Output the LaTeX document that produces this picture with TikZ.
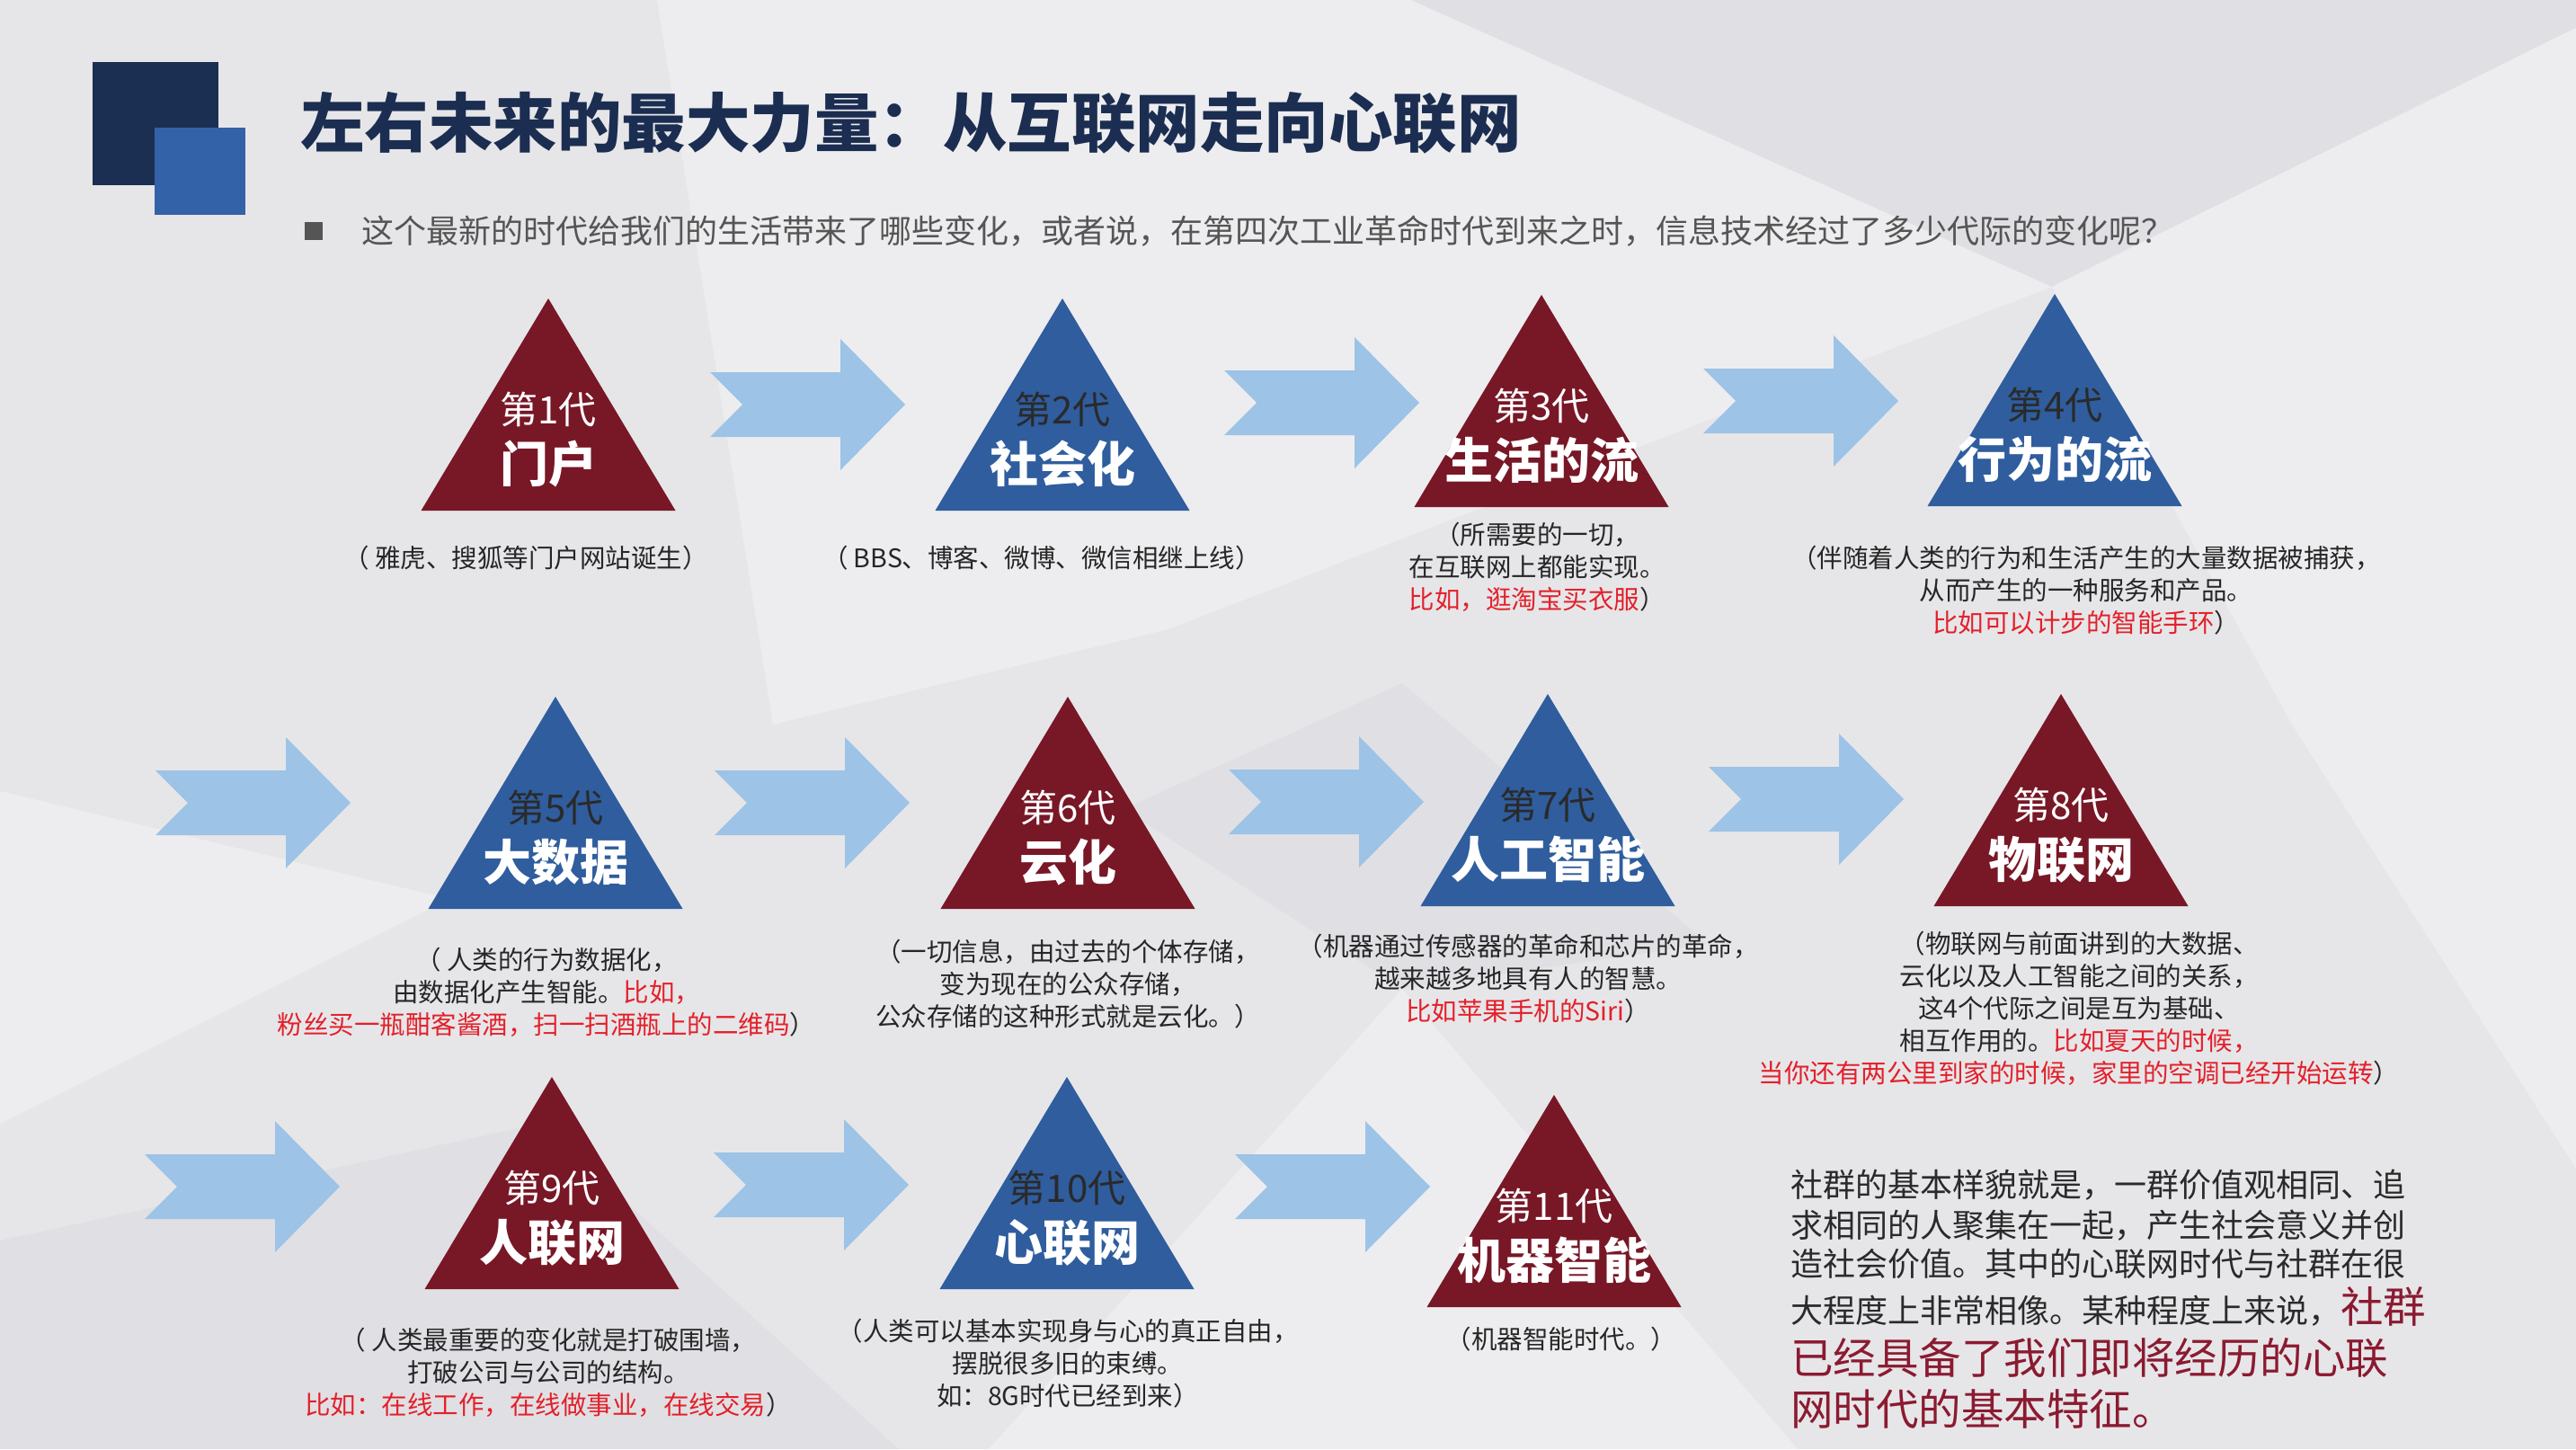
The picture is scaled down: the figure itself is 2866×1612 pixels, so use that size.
\documentclass[tikz,border=0pt]{standalone}
\usepackage{fontspec}
\newfontfamily\cjk{Noto Sans CJK SC}
\definecolor{bgbase}{HTML}{E6E6E9}
\definecolor{bglight}{HTML}{EDEDEF}
\definecolor{bgdark}{HTML}{E0E0E4}
\definecolor{tred}{HTML}{781726}
\definecolor{tblue}{HTML}{2F5D9E}
\definecolor{arrowc}{HTML}{9DC3E6}
\definecolor{navy}{HTML}{1B2D50}
\definecolor{logodark}{HTML}{1B2F52}
\definecolor{logolight}{HTML}{3462A8}
\definecolor{darktxt}{HTML}{2A2A2A}
\definecolor{txtgray}{HTML}{262626}
\definecolor{subgray}{HTML}{555555}
\definecolor{hl}{HTML}{E3202A}
\definecolor{parared}{HTML}{8B1A30}
\newcommand\gentri[7]{%
  \fill[#4] (#2,#3) -- ++(141.5,236) -- ++(-283,0) -- cycle;
  \node[toplab,text=#5] (#1t) at (#2,#3+123) {#6};
  \node[mainlab] (#1m) at (#2,#3+184) {#7};
}
\newcommand\chevarrow[2]{%
  \fill[arrowc] (#1,#2-36) -- ++(145,0) -- ++(0,-37) -- ++(72,73) -- ++(-72,73) -- ++(0,-37) -- ++(-145,0) -- ++(36,-36) -- cycle;
}
\begin{document}
\begin{tikzpicture}[x=1pt,y=-1pt,
  toplab/.style={font=\cjk\fontsize{42}{42}\selectfont, inner sep=0pt},
  mainlab/.style={font=\cjk\bfseries\fontsize{54}{54}\selectfont, text=white, inner sep=0pt},
  desc/.style={font=\cjk\fontsize{28.5}{36}\selectfont, align=center, text=txtgray, inner sep=0pt},
  para/.style={font=\cjk\fontsize{36}{36}\selectfont, text=darktxt, inner sep=0pt, anchor=base west},
  parabig/.style={font=\cjk\fontsize{47.5}{47.5}\selectfont, text=parared, inner sep=0pt, anchor=base west}]
\useasboundingbox (0,0) rectangle (2866,1612);
% background facets
\fill[bgbase] (0,0) rectangle (2866,1612);
\fill[bglight] (731,0) -- (1570,0) -- (2283,319) -- (1300,700) -- (860,806) -- cycle;
\fill[bgdark] (1570,0) -- (2866,0) -- (2866,31) -- (2283,319) -- cycle;
\fill[bglight] (2283,319) -- (2866,31) -- (2866,1300) -- (2550,806) -- cycle;
\fill[bgdark] (0,1380) -- (600,1250) -- (1000,1612) -- (0,1612) -- cycle;
\fill[bglight] (0,880) -- (500,1000) -- (0,1250) -- cycle;
\fill[bglight] (1560,1100) -- (2000,1612) -- (1100,1612) -- cycle;
\fill[bgdark] (1560,760) -- (1900,1050) -- (1560,1100) -- (1250,900) -- cycle;
% logo
\fill[logodark] (103,69) rectangle (243,206);
\fill[logolight] (172,142) rectangle (273,239);
% title
\node[font=\cjk\bfseries\fontsize{71.5}{71.5}\selectfont, text=navy, inner sep=0pt, anchor=west] (title) at (334,137) {左右未来的最大力量：从互联网走向心联网};
\fill[subgray] (339,247) rectangle (359,267);
\node[font=\cjk\fontsize{36}{36}\selectfont, text=subgray, inner sep=0pt, anchor=west] (sub) at (402,257) {这个最新的时代给我们的生活带来了哪些变化，或者说，在第四次工业革命时代到来之时，信息技术经过了多少代际的变化呢？};
% arrows
\chevarrow{790}{450}
\chevarrow{1362}{448}
\chevarrow{1895}{446}
\chevarrow{173}{893}
\chevarrow{795}{893}
\chevarrow{1367}{892}
\chevarrow{1901}{889}
\chevarrow{161}{1320}
\chevarrow{794}{1318}
\chevarrow{1374}{1320}
% triangles
\gentri{t1}{610}{332}{tred}{white}{第1代}{门户}
\gentri{t2}{1182}{332}{tblue}{darktxt}{第2代}{社会化}
\gentri{t3}{1715}{328}{tred}{white}{第3代}{生活的流}
\gentri{t4}{2286}{327}{tblue}{darktxt}{第4代}{行为的流}
\gentri{t5}{618}{775}{tblue}{darktxt}{第5代}{大数据}
\gentri{t6}{1188}{775}{tred}{white}{第6代}{云化}
\gentri{t7}{1722}{772}{tblue}{darktxt}{第7代}{人工智能}
\gentri{t8}{2293}{772}{tred}{white}{第8代}{物联网}
\gentri{t9}{614}{1198}{tred}{white}{第9代}{人联网}
\gentri{t10}{1187}{1198}{tblue}{darktxt}{第10代}{心联网}
\gentri{t11}{1729}{1218}{tred}{white}{第11代}{机器智能}
% descriptions
\node[desc] (d1) at (585,621) {（ 雅虎、搜狐等门户网站诞生）};
\node[desc] (d2) at (1159,621) {（ BBS、博客、微博、微信相继上线）};
\node[desc] (d3) at (1710,631) {（所需要的一切，\\在互联网上都能实现。\\\textcolor{hl}{比如，逛淘宝买衣服}）};
\node[desc] (d4) at (2321,657) {（伴随着人类的行为和生活产生的大量数据被捕获，\\从而产生的一种服务和产品。\\\textcolor{hl}{比如可以计步的智能手环}）};
\node[desc] (d5) at (608,1104) {（ 人类的行为数据化，\\由数据化产生智能。\textcolor{hl}{比如，}\\\textcolor{hl}{粉丝买一瓶酣客酱酒，扫一扫酒瓶上的二维码}）};
\node[desc] (d6) at (1188,1095) {（一切信息，由过去的个体存储，\\变为现在的公众存储，\\公众存储的这种形式就是云化。）};
\node[desc] (d7) at (1700,1089) {（机器通过传感器的革命和芯片的革命，\\越来越多地具有人的智慧。\\\textcolor{hl}{比如苹果手机的Siri}）};
\node[desc] (d8) at (2313,1122) {（物联网与前面讲到的大数据、\\云化以及人工智能之间的关系，\\这4个代际之间是互为基础、\\相互作用的。\textcolor{hl}{比如夏天的时候，}\\\textcolor{hl}{当你还有两公里到家的时候，家里的空调已经开始运转}）};
\node[desc] (d9) at (610,1527) {（ 人类最重要的变化就是打破围墙，\\打破公司与公司的结构。\\\textcolor{hl}{比如：在线工作，在线做事业，在线交易}）};
\node[desc] (d10) at (1188,1517) {（人类可以基本实现身与心的真正自由，\\摆脱很多旧的束缚。\\如：8G时代已经到来）};
\node[desc] (d11) at (1737,1490) {（机器智能时代。）};
% paragraph
\node[para] (p1) at (1992,1331) {社群的基本样貌就是，一群价值观相同、追};
\node[para] (p2) at (1992,1376) {求相同的人聚集在一起，产生社会意义并创};
\node[para] (p3) at (1992,1419) {造社会价值。其中的心联网时代与社群在很};
\node[para] (p4) at (1992,1471) {大程度上非常相像。某种程度上来说，{\color{parared}\fontsize{47.5}{47.5}\selectfont 社群}};
\node[parabig] (p5) at (1992,1528) {已经具备了我们即将经历的心联};
\node[parabig] (p6) at (1992,1585) {网时代的基本特征。};
\end{tikzpicture}
\end{document}
